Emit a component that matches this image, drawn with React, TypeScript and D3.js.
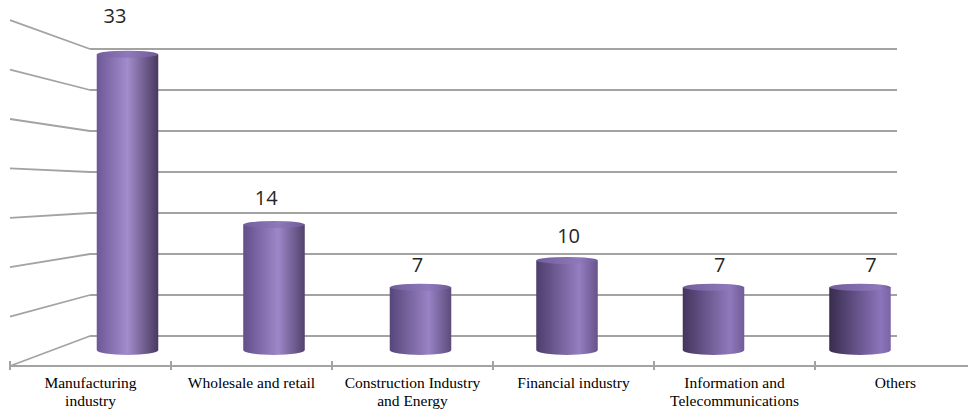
import React from "react";
import * as d3 from "d3";

const categories = [
  "Manufacturing industry",
  "Wholesale and retail",
  "Construction Industry and Energy",
  "Financial industry",
  "Information and Telecommunications",
  "Others",
];
const categoryLines = [
  ["Manufacturing", "industry"],
  ["Wholesale and retail"],
  ["Construction Industry", "and Energy"],
  ["Financial industry"],
  ["Information and", "Telecommunications"],
  ["Others"],
];
const values = [33, 14, 7, 10, 7, 7];
const yTicks = [0, 5, 10, 15, 20, 25, 30, 35];

const W = 968;
const H = 412;

export default function App() {
  const xFront = d3.scaleBand<string>().domain(categories).range([10, 976]);
  const xBack = d3.scaleBand<string>().domain(categories).range([90, 897]);
  const xBar = d3.scaleBand<string>().domain(categories).range([54.25, 933.25]);
  const xLabel = d3.scaleBand<string>().domain(categories).range([39.4, 946.6]);

  const yFront = d3.scaleLinear().domain([0, 35]).range([366, 20.2]);
  const yBack = d3.scaleLinear().domain([0, 35]).range([336, 49]);
  const yBar = d3.scaleLinear().domain([0, 35]).range([350, 350 - 35 * 8.96]);
  const yLabel = d3.scaleLinear().domain([0, 35]).range([339, 339 - 35 * 9.58]);

  const barW = xBar.bandwidth() * 0.42;
  const ry = 5;
  const grid = "#a3a3a3";

  const n = categories.length;
  const gradients = categories.map((c, i) => {
    const t = i / (n - 1);
    return {
      id: `cyl${i}`,
      left: d3.interpolateRgb("#6d5797", "#372c4f")(t),
      mid: d3.interpolateRgb("#a38ccb", "#8c74ba")(t),
      midOff: 0.5 + 0.33 * t,
      right: d3.interpolateRgb("#48395f", "#7b65a6")(t),
    };
  });

  return (
    <svg
      width={W}
      height={H}
      style={{ position: "absolute", left: 0, top: 0, background: "#fff" }}
    >
      <defs>
        {gradients.map((g) => (
          <linearGradient key={g.id} id={g.id} x1="0" x2="1" y1="0" y2="0">
            <stop offset="0" stopColor={g.left} />
            <stop offset={g.midOff} stopColor={g.mid} />
            <stop offset="1" stopColor={g.right} />
          </linearGradient>
        ))}
        {gradients.map((g) => (
          <linearGradient key={g.id + "top"} id={g.id + "top"} x1="0" x2="1" y1="0" y2="0">
            <stop offset="0" stopColor="#735d9d" />
            <stop offset={g.midOff} stopColor="#8f79ba" />
            <stop offset="1" stopColor="#6f5a98" />
          </linearGradient>
        ))}
      </defs>

      {/* side wall gridlines */}
      {yTicks.map((t) => (
        <line
          key={"s" + t}
          x1={xFront.range()[0]}
          y1={yFront(t)}
          x2={xBack.range()[0]}
          y2={yBack(t)}
          stroke={grid}
          strokeWidth={1.8}
        />
      ))}
      {/* back wall gridlines */}
      {yTicks.map((t) => (
        <line
          key={"b" + t}
          x1={xBack.range()[0]}
          y1={yBack(t)}
          x2={xBack.range()[1]}
          y2={yBack(t)}
          stroke={grid}
          strokeWidth={1.8}
        />
      ))}

      {/* floor axis */}
      <line x1={xFront.range()[0]} y1={yFront(0)} x2={W} y2={yFront(0)} stroke={grid} strokeWidth={2} />
      {categories.map((c) => (
        <line
          key={"tk" + c}
          x1={xFront(c)!}
          x2={xFront(c)!}
          y1={yFront(0) - 5}
          y2={yFront(0) + 4}
          stroke={grid}
          strokeWidth={2}
        />
      ))}

      {/* cylinders */}
      {categories.map((c, i) => {
        const cx = xBar(c)! + xBar.bandwidth() / 2;
        const y0 = yBar(0);
        const y1 = yBar(values[i]);
        const rx = barW / 2;
        const body = `M${cx - rx},${y1} L${cx - rx},${y0} A${rx},${ry} 0 0 0 ${cx + rx},${y0} L${cx + rx},${y1} Z`;
        return (
          <g key={"bar" + c}>
            <path d={body} fill={`url(#cyl${i})`} />
            <ellipse cx={cx} cy={y1} rx={rx} ry={ry - 1.5} fill={`url(#cyl${i}top)`} />
          </g>
        );
      })}

      {/* value labels */}
      {categories.map((c, i) => (
        <text
          key={"v" + c}
          x={xLabel(c)! + xLabel.bandwidth() / 2}
          y={yLabel(values[i])}
          textAnchor="middle"
          fontFamily="'Open Sans', sans-serif"
          fontSize={20}
          fill="#262626"
        >
          {values[i]}
        </text>
      ))}

      {/* category labels */}
      {categories.map((c, i) => (
        <text
          key={"c" + c}
          x={xFront(c)! + xFront.bandwidth() / 2}
          y={388}
          textAnchor="middle"
          fontFamily="'Liberation Serif', 'Times New Roman', serif"
          fontSize={15.5}
          fill="#000"
        >
          {categoryLines[i].map((l, j) => (
            <tspan key={j} x={xFront(c)! + xFront.bandwidth() / 2} dy={j === 0 ? 0 : 18}>
              {l}
            </tspan>
          ))}
        </text>
      ))}
    </svg>
  );
}
